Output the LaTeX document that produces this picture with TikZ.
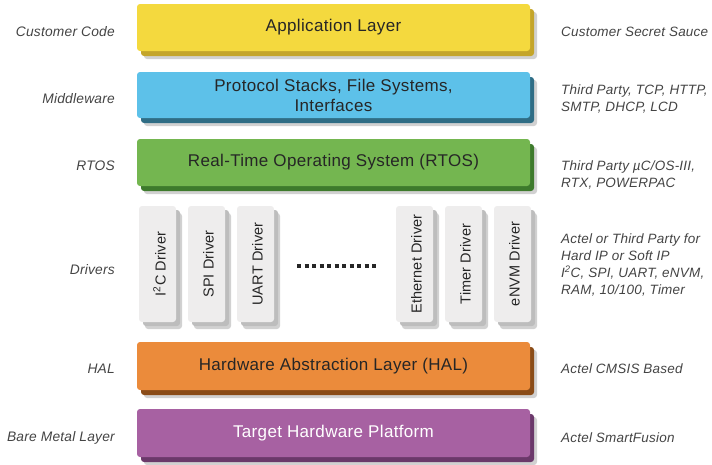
\documentclass[tikz,border=0pt]{standalone}
\usepackage{fontspec}
\setmainfont{Liberation Sans}
\newfontfamily\boxfont[LetterSpace=2.0]{Liberation Sans}
\newfontfamily\sidefont[LetterSpace=1.5]{Liberation Sans}
\newfontfamily\drvfont[LetterSpace=1.0]{Liberation Sans}
\usetikzlibrary{shadows}
\definecolor{appY}{HTML}{F4D93E}
\definecolor{appYd}{HTML}{C4A52A}
\definecolor{midB}{HTML}{5DC1E9}
\definecolor{midBd}{HTML}{2F6D85}
\definecolor{rtG}{HTML}{74B650}
\definecolor{rtGd}{HTML}{3D7A2C}
\definecolor{halO}{HTML}{EB8B3B}
\definecolor{halOd}{HTML}{8A4C18}
\definecolor{hwP}{HTML}{A761A2}
\definecolor{hwPd}{HTML}{6B386A}
\definecolor{drvF}{HTML}{EEEDED}
\definecolor{drvD}{HTML}{BDBDBD}
\definecolor{txtD}{HTML}{262626}
\definecolor{sideT}{HTML}{444444}
\tikzset{
  layer/.style 2 args={rounded corners=3pt, minimum width=393pt, minimum height=47pt,
    inner sep=0pt, fill=#1, draw=none,
    drop shadow={shadow xshift=7pt, shadow yshift=-8pt, opacity=0.18, fill=black},
    copy shadow={shadow xshift=4pt, shadow yshift=-5pt, fill=#2, draw=none},
    font=\boxfont\fontsize{17}{20}\selectfont, text=txtD, align=center},
  drvbox/.style={rounded corners=3pt, minimum width=37pt, minimum height=116pt,
    inner sep=0pt, fill=drvF, draw=none,
    drop shadow={shadow xshift=6pt, shadow yshift=-7pt, opacity=0.18, fill=black},
    copy shadow={shadow xshift=4pt, shadow yshift=-4pt, fill=drvD, draw=none},
    font=\drvfont\fontsize{14.5}{16}\selectfont, text=txtD},
  leftlbl/.style={anchor=east, inner sep=0pt, text=sideT,
    font=\sidefont\itshape\fontsize{13.8}{17}\selectfont},
  rightlbl/.style={anchor=west, inner sep=0pt, text=sideT, align=left,
    font=\sidefont\itshape\fontsize{13.5}{17}\selectfont},
  dotrow/.style={line width=4pt, dash pattern=on 4pt off 3.5pt, txtD}
}
\begin{document}
\begin{tikzpicture}[x=1pt,y=-1pt]
\useasboundingbox (0,0) rectangle (712,464);
% layers
\node[layer={appY}{appYd}] (app) at (333.5,27.5) {Application Layer};
\node[layer={midB}{midBd}, minimum height=46pt] (mid) at (333.5,95) {Protocol Stacks, File Systems,\\Interfaces};
\node[layer={rtG}{rtGd}] (rtos) at (333.5,162.5) {Real-Time Operating System (RTOS)};
\node[layer={halO}{halOd}, minimum height=48pt] (hal) at (333.5,366) {Hardware Abstraction Layer (HAL)};
\node[layer={hwP}{hwPd}, minimum height=48pt, text=white] (hw) at (333.5,433) {Target Hardware Platform};
% drivers
\node[drvbox] (i2c) at (157.5,264) {\hspace{4pt}\rotatebox{90}{I\textsuperscript{2}C Driver}};
\node[drvbox] (spi) at (206.5,264) {\hspace{4pt}\rotatebox{90}{SPI Driver}};
\node[drvbox] (uart) at (255.5,264) {\hspace{4pt}\rotatebox{90}{UART Driver}};
\node[drvbox] (eth) at (414.5,264) {\hspace{4pt}\rotatebox{90}{Ethernet Driver}};
\node[drvbox] (tmr) at (463.5,264) {\hspace{4pt}\rotatebox{90}{Timer Driver}};
\node[drvbox] (envm) at (512.5,264) {\hspace{4pt}\rotatebox{90}{eNVM Driver}};
\coordinate (dotsA) at (297,266);
\coordinate (dotsB) at (379,266);
\draw[dotrow] (dotsA) -- (dotsB);
% left labels
\node[leftlbl] (lcc) at (115,32) {Customer Code};
\node[leftlbl] (lmw) at (115,99) {Middleware};
\node[leftlbl] (lrt) at (115,166) {RTOS};
\node[leftlbl] (ldr) at (115,270) {Drivers};
\node[leftlbl] (lhal) at (115,369) {HAL};
\node[leftlbl] (lbm) at (115,438) {Bare Metal Layer};
% right labels
\node[rightlbl] (rcs) at (561,32) {Customer Secret Sauce};
\node[rightlbl] (rmw) at (561,98.5) {Third Party, TCP, HTTP,\\SMTP, DHCP, LCD};
\node[rightlbl] (rrt) at (561,174.5) {Third Party µC/OS-III,\\RTX, POWERPAC};
\node[rightlbl] (rdr) at (561,265) {Actel or Third Party for\\Hard IP or Soft IP\\I\textsuperscript{2}C, SPI, UART, eNVM,\\RAM, 10/100, Timer};
\node[rightlbl] (rhal) at (561,369) {Actel CMSIS Based};
\node[rightlbl] (rbm) at (561,438) {Actel SmartFusion};
\end{tikzpicture}
\end{document}
